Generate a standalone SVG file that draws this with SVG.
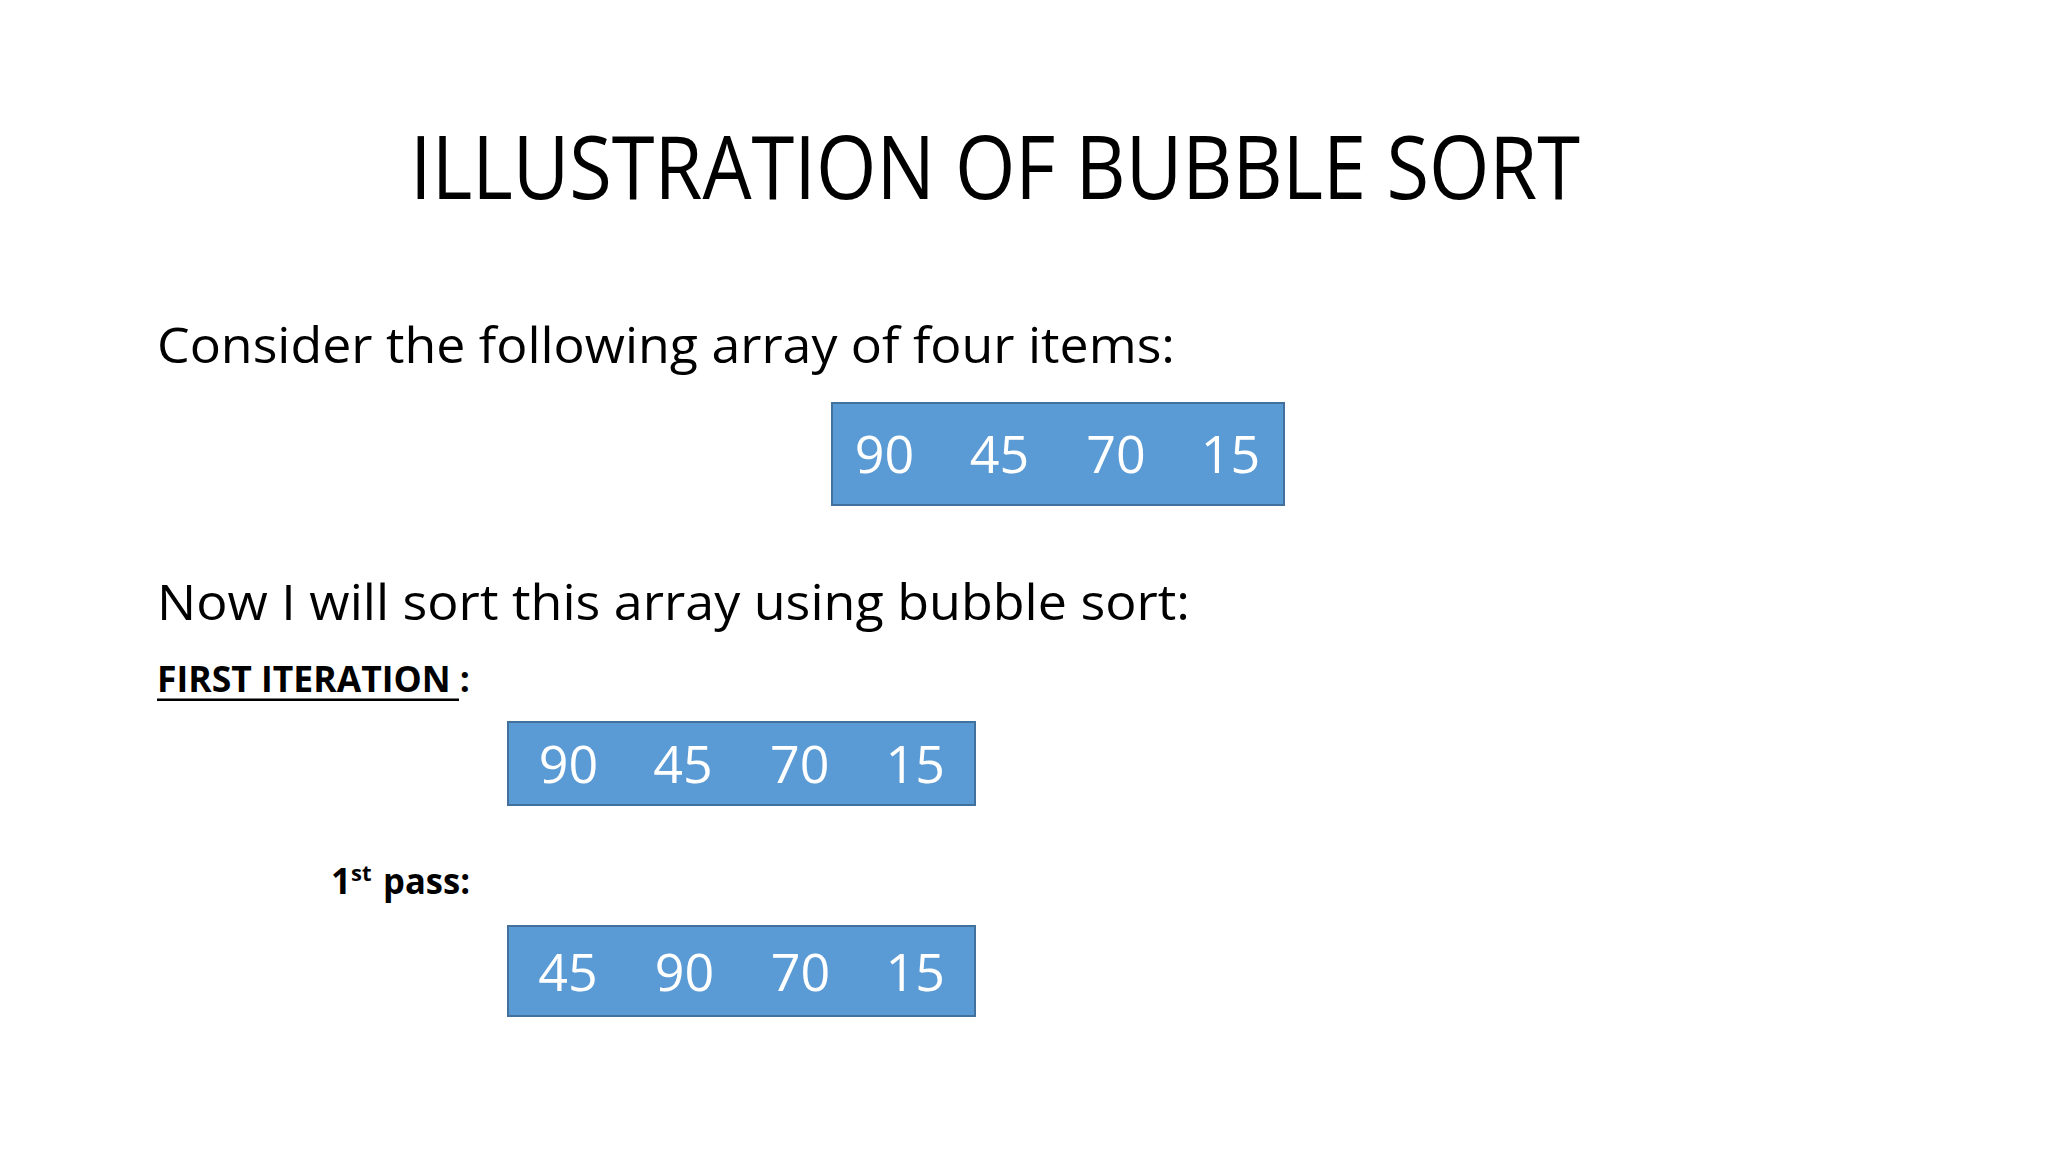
<svg xmlns="http://www.w3.org/2000/svg" width="2048" height="1152" viewBox="0 0 2048 1152">
  <style>
    .t { font-family: "Open Sans", "Noto Sans", "Liberation Sans", sans-serif; fill: #000; }
    .title { font-size: 87px; font-weight: 400; }
    .body { font-size: 50px; }
    .bold { font-size: 35px; font-weight: 700; }
    .box { fill: #5B9BD5; stroke: #41719C; stroke-width: 2; }
    .num { font-family: "Open Sans", "Noto Sans", "Liberation Sans", sans-serif; font-size: 52px; fill: #fff; text-anchor: middle; }
  </style>
  <rect x="0" y="0" width="2048" height="1152" fill="#fff"/>
  <g id="title">
    <text class="t title" x="410" y="199" textLength="1170" lengthAdjust="spacingAndGlyphs">ILLUSTRATION OF BUBBLE SORT</text>
  </g>
  <g id="intro">
    <text class="t body" x="157" y="363" textLength="1018" lengthAdjust="spacingAndGlyphs">Consider the following array of four items:</text>
  </g>
  <g id="array-initial">
    <rect class="box" x="832" y="403" width="452" height="102"/>
    <text class="num" x="884.5" y="473">90</text>
    <text class="num" x="999.5" y="473">45</text>
    <text class="num" x="1116" y="473">70</text>
    <text class="num" x="1230.5" y="473">15</text>
  </g>
  <g id="sort-intro">
    <text class="t body" x="157" y="620" textLength="1033" lengthAdjust="spacingAndGlyphs">Now I will sort this array using bubble sort:</text>
  </g>
  <g id="first-iteration-label">
    <text class="t bold" x="157" y="692" textLength="313" lengthAdjust="spacingAndGlyphs">FIRST ITERATION :</text>
    <rect x="157" y="698.5" width="302" height="2.5" fill="#000"/>
  </g>
  <g id="array-iteration">
    <rect class="box" x="508" y="722" width="467" height="83"/>
    <text class="num" x="568.6" y="783">90</text>
    <text class="num" x="683" y="783">45</text>
    <text class="num" x="799.7" y="783">70</text>
    <text class="num" x="915.2" y="783">15</text>
  </g>
  <g id="first-pass-label">
    <text class="t bold" x="331" y="894">1</text>
    <text class="t" x="351" y="881" style="font-size:22px;font-weight:700">st</text>
    <text class="t bold" x="383" y="894" textLength="87" lengthAdjust="spacingAndGlyphs">pass:</text>
  </g>
  <g id="array-pass1">
    <rect class="box" x="508" y="926" width="467" height="90"/>
    <text class="num" x="568" y="991">45</text>
    <text class="num" x="684.5" y="991">90</text>
    <text class="num" x="800.5" y="991">70</text>
    <text class="num" x="915.2" y="991">15</text>
  </g>
</svg>
